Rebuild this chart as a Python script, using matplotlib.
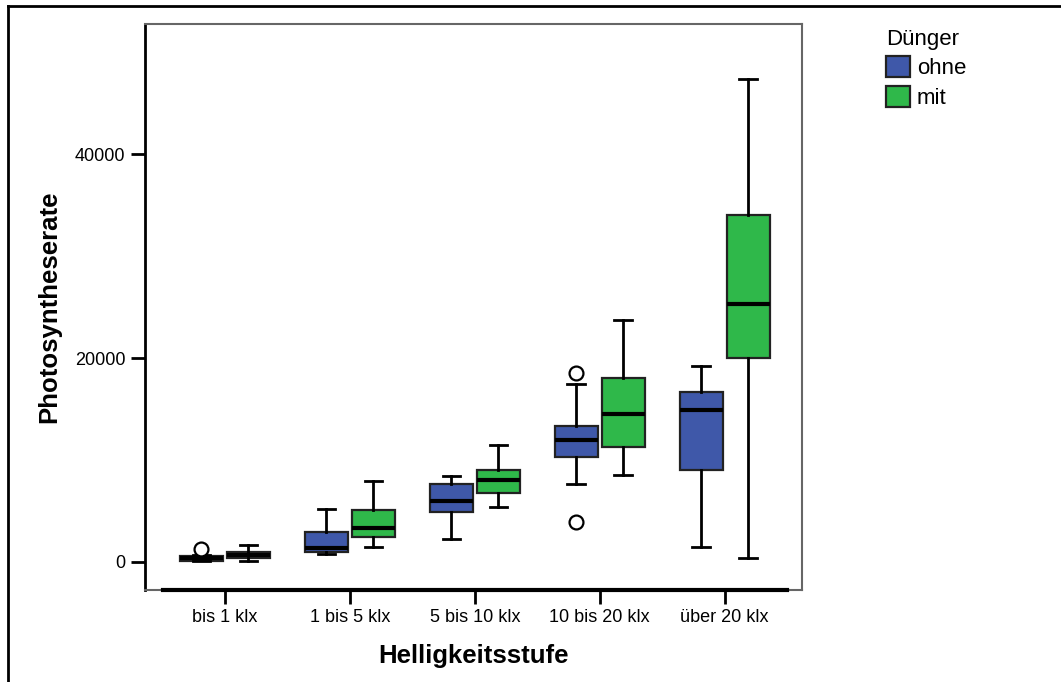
import matplotlib.pyplot as plt
from matplotlib.patches import Patch
from matplotlib.lines import Line2D

plt.rcParams["font.family"] = ["Liberation Sans", "DejaVu Sans"]

# Kategorien und Gruppen
stufen = ["bis 1 klx", "1 bis 5 klx", "5 bis 10 klx", "10 bis 20 klx", "über 20 klx"]
gruppen = ["ohne", "mit"]
farben = {"ohne": "#3F58A9", "mit": "#2FB84A"}

# Boxplot-Kennwerte: whislo, q1, med, q3, whishi
ohne_whislo = [60, 770, 2230, 7680, 1500]
ohne_q1 = [130, 1010, 4930, 10290, 9050]
ohne_med = [390, 1370, 5980, 11930, 14870]
ohne_q3 = [620, 2970, 7620, 13330, 16700]
ohne_whishi = [700, 5200, 8430, 17450, 19190]
ohne_fliers = [[1240], [], [], [18500, 3950], []]

mit_whislo = [130, 1500, 5420, 8530, 420]
mit_q1 = [360, 2480, 6800, 11270, 20030]
mit_med = [650, 3300, 8070, 14480, 25290]
mit_q3 = [950, 5100, 9050, 18040, 34020]
mit_whishi = [1670, 7940, 11500, 23730, 47350]
mit_fliers = [[], [], [], [], []]


def stats(lo, q1, med, q3, hi, fl):
    return [dict(whislo=a, q1=b, med=c, q3=d, whishi=e, fliers=f)
            for a, b, c, d, e, f in zip(lo, q1, med, q3, hi, fl)]


daten = {
    "ohne": stats(ohne_whislo, ohne_q1, ohne_med, ohne_q3, ohne_whishi, ohne_fliers),
    "mit": stats(mit_whislo, mit_q1, mit_med, mit_q3, mit_whishi, mit_fliers),
}

fig = plt.figure(figsize=(10.61, 6.82), dpi=100)
ax = fig.add_axes([0.1367, 0.1349, 0.6192, 0.8299])

offset = {"ohne": -0.188, "mit": 0.188}
for g in gruppen:
    pos = [i + offset[g] for i in range(len(stufen))]
    ax.bxp(daten[g], positions=pos, widths=0.344, patch_artist=True,
           boxprops=dict(facecolor=farben[g], edgecolor="#222222", linewidth=1.6),
           medianprops=dict(color="black", linewidth=3),
           whiskerprops=dict(color="black", linewidth=2),
           capprops=dict(color="black", linewidth=2),
           capwidths=0.14,
           flierprops=dict(marker="o", markersize=10, markerfacecolor="white",
                           markeredgecolor="black", markeredgewidth=1.6))

ax.set_xlim(-0.64, 4.62)
ax.set_ylim(-2745, 52745)
ax.set_xticks(range(len(stufen)))
ax.set_xticklabels(stufen)
ax.set_yticks([0, 20000, 40000])
ax.tick_params(axis="both", direction="out", length=10, width=2, labelsize=13, pad=4)

for s in ["top", "right", "bottom"]:
    ax.spines[s].set_color("#666666")
    ax.spines[s].set_linewidth(1.5)
ax.spines["left"].set_color("black")
ax.spines["left"].set_linewidth(2)
# schwarze x-Achsenlinie
ax.plot([-0.5, 4.5], [-2745, -2745], color="black", linewidth=3, clip_on=False, zorder=5)

ax.set_xlabel("Helligkeitsstufe", fontsize=18.5, fontweight="bold", labelpad=13)
ax.set_ylabel("Photosyntheserate", fontsize=18.5, fontweight="bold", labelpad=10)

handles = [Patch(facecolor=farben[g], edgecolor="#222222", linewidth=1.6, label=g) for g in gruppen]
leg = fig.legend(handles=handles, title="Dünger", loc="upper left",
                 bbox_to_anchor=(0.835, 0.957), frameon=False, fontsize=16,
                 title_fontsize=16, handlelength=1.1, handleheight=1.1,
                 handletextpad=0.3, labelspacing=0.3, borderaxespad=0,
                 borderpad=0)
leg._legend_box.align = "left"
leg._legend_box.sep = 4

# äußerer Rahmen
fig.add_artist(Line2D([0.0075, 1.0], [0.991, 0.991], color="black", linewidth=2))
fig.add_artist(Line2D([0.0075, 0.0075], [0.0, 0.991], color="black", linewidth=2))

fig.savefig("out.png", dpi=100)
